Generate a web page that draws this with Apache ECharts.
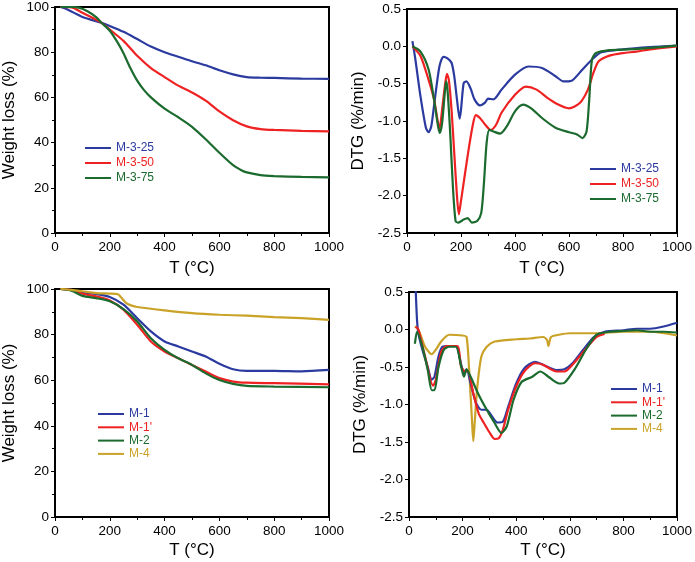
<!DOCTYPE html>
<html>
<head>
<meta charset="utf-8">
<script src="https://cdn.jsdelivr.net/npm/echarts@6/dist/echarts.min.js"></script>
<style>html,body{margin:0;padding:0;background:#fff;}#c{width:695px;height:562px;}</style>
</head>
<body>
<div id="c"></div>
<script>
// ---------- data (T in °C, value) ----------
const xTicks = [0, 200, 400, 600, 800, 1000];

// Top-left: weight loss (%)
const m325_w = [[20,100],[40,99.2],[60,98],[80,96.8],[100,95.6],[130,94.4],[170,93],[200,91.6],[250,89],[300,85.8],[350,82.5],[400,80],[450,78],[500,76],[550,74.2],[600,72],[650,70.2],[700,69],[750,68.7],[800,68.6],[900,68.3],[1000,68.2]];
const m350_w = [[20,100],[60,99.8],[100,97.5],[140,95],[170,93],[200,90],[250,85],[300,78.4],[350,73],[400,69],[450,65.2],[500,62.2],[550,58.6],[600,53.8],[650,49.9],[700,47.2],[750,46],[800,45.6],[900,45.2],[1000,45]];
const m375_w = [[20,100],[60,100],[90,99.6],[120,98],[150,95.5],[170,93],[200,89.5],[230,84],[250,79.5],[275,73],[300,67.4],[325,63.2],[350,60],[400,55],[450,51.2],[500,47],[550,41.5],[600,35.5],[650,30],[680,27.8],[700,26.8],[750,25.6],[800,25.2],[900,24.8],[1000,24.6]];

// Top-right: DTG (%/min)
const m325_d = [[20,0.07],[30,-0.15],[50,-0.67],[70,-1.09],[80,-1.15],[90,-1.07],[100,-0.8],[120,-0.27],[135,-0.14],[150,-0.16],[165,-0.22],[175,-0.4],[185,-0.71],[195,-0.97],[200,-0.85],[210,-0.49],[220,-0.47],[235,-0.56],[250,-0.71],[270,-0.79],[290,-0.75],[300,-0.70],[320,-0.71],[350,-0.58],[400,-0.38],[450,-0.27],[500,-0.29],[550,-0.40],[580,-0.47],[610,-0.46],[650,-0.31],[690,-0.16],[720,-0.08],[800,-0.04],[900,-0.01],[1000,0.01]];
const m350_d = [[20,0],[50,-0.13],[80,-0.45],[100,-0.71],[115,-1.03],[120,-1.11],[130,-0.85],[140,-0.54],[148,-0.37],[155,-0.45],[165,-0.85],[175,-1.43],[185,-2.0],[192,-2.25],[200,-2.07],[215,-1.70],[230,-1.34],[245,-1.03],[255,-0.92],[270,-0.96],[290,-1.05],[310,-1.12],[330,-1.05],[350,-0.89],[400,-0.65],[440,-0.54],[480,-0.58],[520,-0.69],[560,-0.78],[600,-0.83],[640,-0.76],[670,-0.58],[690,-0.36],[710,-0.20],[750,-0.125],[800,-0.09],[850,-0.07],[900,-0.04],[1000,0]];
const m375_d = [[20,0],[50,-0.07],[80,-0.31],[100,-0.71],[115,-1.07],[122,-1.16],[130,-1.03],[140,-0.62],[145,-0.47],[150,-0.58],[160,-1.16],[170,-1.88],[180,-2.34],[190,-2.36],[210,-2.32],[225,-2.30],[240,-2.36],[260,-2.34],[275,-2.23],[285,-1.83],[295,-1.29],[305,-1.12],[320,-1.14],[345,-1.17],[370,-1.07],[400,-0.87],[430,-0.78],[460,-0.83],[500,-0.96],[550,-1.09],[600,-1.15],[630,-1.18],[650,-1.23],[665,-1.14],[675,-0.71],[685,-0.18],[700,-0.09],[750,-0.05],[800,-0.045],[900,-0.02],[1000,0.01]];

// Bottom-left: weight loss (%)
const m1_w  = [[20,100],[60,99.6],[100,98.5],[150,97.8],[200,96.5],[250,93.1],[300,87.2],[350,81.4],[400,77],[450,74.8],[500,72.6],[550,70.4],[600,67.2],[650,64.8],[700,64.1],[800,64.1],[900,63.9],[1000,64.5]];
const m1p_w = [[20,100],[60,99.5],[100,97.9],[150,96.8],[200,95],[250,90.9],[300,84.3],[350,77],[400,72.6],[450,69.6],[500,66.7],[550,63.8],[600,60.9],[650,59.4],[700,58.9],[800,58.7],[1000,58.2]];
const m2_w  = [[20,100],[60,99.3],[100,97],[150,96],[200,94.6],[250,91.2],[300,85.8],[350,78.4],[400,73.3],[450,69.6],[500,66.7],[550,63],[600,60.1],[650,58.4],[700,57.5],[800,57.2],[1000,56.9]];
const m4_w  = [[20,100],[60,99.6],[100,99],[150,98.2],[200,98],[230,97.7],[240,96.5],[260,93.8],[280,92.7],[300,92.1],[400,90.6],[500,89.4],[600,88.7],[700,88.3],[800,87.7],[900,87.2],[1000,86.5]];

// Bottom-right: DTG (%/min)
const m1_d  = [[24,0.62],[30,0.12],[35,-0.05],[50,-0.27],[70,-0.50],[85,-0.67],[95,-0.63],[110,-0.36],[125,-0.23],[150,-0.22],[175,-0.22],[195,-0.47],[205,-0.58],[215,-0.53],[230,-0.72],[250,-0.98],[270,-1.07],[290,-1.07],[310,-1.16],[330,-1.24],[350,-1.23],[370,-1.03],[400,-0.72],[430,-0.52],[470,-0.43],[500,-0.47],[550,-0.54],[580,-0.53],[610,-0.45],[650,-0.27],[690,-0.10],[730,-0.03],[800,-0.01],[850,0.01],[900,0.01],[950,0.04],[1000,0.09]];
const m1p_d = [[25,0.04],[35,0],[60,-0.36],[90,-0.75],[100,-0.67],[120,-0.30],[140,-0.22],[180,-0.22],[195,-0.50],[210,-0.56],[220,-0.56],[240,-0.85],[260,-1.12],[280,-1.25],[300,-1.37],[320,-1.46],[335,-1.45],[350,-1.34],[370,-1.07],[400,-0.76],[430,-0.56],[470,-0.45],[500,-0.47],[550,-0.56],[580,-0.56],[610,-0.47],[650,-0.30],[700,-0.10],[730,-0.06]];
const m2_d  = [[22,-0.19],[30,-0.03],[50,-0.23],[70,-0.54],[85,-0.81],[95,-0.81],[110,-0.50],[130,-0.27],[150,-0.23],[175,-0.23],[195,-0.50],[205,-0.63],[215,-0.53],[230,-0.63],[260,-0.87],[290,-1.07],[320,-1.25],[345,-1.38],[365,-1.29],[390,-0.94],[420,-0.70],[460,-0.63],[490,-0.56],[520,-0.63],[560,-0.72],[580,-0.71],[620,-0.52],[660,-0.27],[700,-0.07],[750,-0.03],[800,-0.02],[850,-0.01],[900,-0.03],[950,-0.03],[1000,-0.04]];
const m4_d  = [[22,0.04],[35,0],[60,-0.23],[85,-0.33],[100,-0.27],[120,-0.16],[150,-0.07],[200,-0.08],[215,-0.10],[225,-0.58],[235,-1.21],[240,-1.49],[245,-1.25],[255,-0.76],[270,-0.36],[290,-0.23],[320,-0.16],[400,-0.13],[450,-0.12],[500,-0.10],[515,-0.14],[520,-0.22],[530,-0.10],[560,-0.07],[600,-0.05],[700,-0.05],[800,-0.03],[900,-0.03],[1000,-0.08]];

// ---------- styling ----------
const C = {blue:'#2b3a9f', red:'#ee2222', green:'#1b6a2e', gold:'#c9a227'};
const FONT = '"Liberation Sans", Arial, Helvetica, sans-serif';

const grids = [
  {left:54, top:6, width:275, height:227},
  {left:407, top:9, width:271, height:224},
  {left:54, top:289, width:275, height:228},
  {left:409, top:292, width:269, height:225}
].map(g => Object.assign(g, {show:true, borderColor:'#000', borderWidth:2, backgroundColor:'transparent', containLabel:false}));

function xAx(i, titleGap){
  return {
    type:'value', gridIndex:i, min:xTicks[0], max:xTicks[xTicks.length-1], interval:xTicks[1]-xTicks[0],
    name:'T (°C)', nameLocation:'middle', nameGap:titleGap,
    nameTextStyle:{fontFamily:FONT, fontSize:17, color:'#000'},
    axisLine:{show:true, onZero:false, lineStyle:{color:'#000', width:2}},
    axisTick:{show:true, inside:false, length:4, lineStyle:{color:'#000', width:1}},
    minorTick:{show:true, splitNumber:2, length:3, lineStyle:{color:'#000', width:1}},
    splitLine:{show:false},
    axisLabel:{fontFamily:FONT, fontSize:13.5, color:'#000', margin:7, formatter:v => String(v)}
  };
}
function yAx(i, opts){
  return Object.assign({
    type:'value', gridIndex:i,
    nameLocation:'middle',
    nameTextStyle:{fontFamily:FONT, fontSize:17, color:'#000'},
    axisLine:{show:true, onZero:false, lineStyle:{color:'#000', width:2}},
    axisTick:{show:true, inside:false, length:4, lineStyle:{color:'#000', width:1}},
    splitLine:{show:false},
    axisLabel:{fontFamily:FONT, fontSize:13.5, color:'#000', margin:6}
  }, opts);
}
const yW = i => yAx(i, {min:0, max:100, interval:20, name:'Weight loss (%)', nameGap:37,
  minorTick:{show:true, splitNumber:2, length:3, lineStyle:{color:'#000', width:1}}});
const yD = i => yAx(i, {min:-2.5, max:0.5, interval:0.5, name:'DTG (%/min)', nameGap:40,
  axisLabel:{fontFamily:FONT, fontSize:13.5, color:'#000', margin:6, formatter:v => v.toFixed(1)}});

function line(name, data, color, idx){
  return {type:'line', name, data, xAxisIndex:idx, yAxisIndex:idx, showSymbol:false, symbol:'none',
    smooth:0.25, clip:true, lineStyle:{color, width:2.2}, itemStyle:{color}, emphasis:{disabled:true}, z:3};
}
function legend(items, left, top, gap){
  return {orient:'vertical', left, top, itemWidth:26, itemHeight:2, itemGap:gap, icon:'rect',
    selectedMode:false, padding:0,
    textStyle:{fontFamily:FONT, fontSize:12},
    data: items.map(([n,c]) => ({name:n, textStyle:{color:c}, itemStyle:{color:c}}))};
}

const option = {
  animation:false,
  backgroundColor:'#fff',
  grid: grids,
  xAxis: [xAx(0,27), xAx(1,27), xAx(2,25), xAx(3,25)],
  yAxis: [yW(0), yD(1), yW(2), yD(3)],
  legend: [
    legend([['M-3-25',C.blue],['M-3-50',C.red],['M-3-75',C.green]], 85, 142, 3),
    legend([['M-3-25',C.blue],['M-3-50',C.red],['M-3-75',C.green]], 590, 163, 3),
    legend([['M-1',C.blue],["M-1'",C.red],['M-2',C.green],['M-4',C.gold]], 98, 408, 1.3),
    legend([['M-1',C.blue],["M-1'",C.red],['M-2',C.green],['M-4',C.gold]], 611, 383, 1.3)
  ],
  series: [
    line('M-3-25', m325_w, C.blue, 0),
    line('M-3-50', m350_w, C.red, 0),
    line('M-3-75', m375_w, C.green, 0),
    line('M-3-25', m325_d, C.blue, 1),
    line('M-3-50', m350_d, C.red, 1),
    line('M-3-75', m375_d, C.green, 1),
    line('M-1', m1_w, C.blue, 2),
    line("M-1'", m1p_w, C.red, 2),
    line('M-2', m2_w, C.green, 2),
    line('M-4', m4_w, C.gold, 2),
    line('M-4', m4_d, C.gold, 3),
    line('M-1', m1_d, C.blue, 3),
    line("M-1'", m1p_d, C.red, 3),
    line('M-2', m2_d, C.green, 3)
  ]
};
const chart = echarts.init(document.getElementById('c'), null, {renderer:'canvas'});
chart.setOption(option);
</script>
</body>
</html>
